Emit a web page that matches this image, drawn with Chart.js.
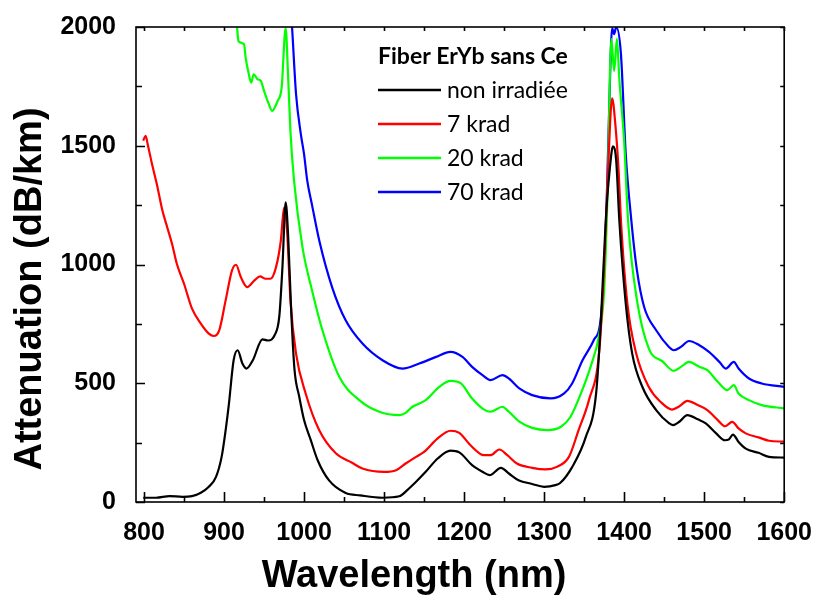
<!DOCTYPE html>
<html>
<head>
<meta charset="utf-8">
<script src="https://cdn.jsdelivr.net/npm/chart.js@4.4.1/dist/chart.umd.min.js"></script>
<style>
  html, body { margin: 0; padding: 0; background: #fff; }
  #chart { display: block; }
</style>
</head>
<body>
<canvas id="chart" width="820" height="605"></canvas>
<script>
// values (wavelength in nm, attenuation in dB/km)
const legendTitle = 'Fiber ErYb sans Ce';
const seriesLabels = ['non irradiée', '7 krad', '20 krad', '70 krad'];
const seriesColors = ['#000000', '#ff0000', '#00ff00', '#0000ff'];

const xMajorTicks = [800, 900, 1000, 1100, 1200, 1300, 1400, 1500, 1600];
const xMinorTicks = [850, 950, 1050, 1150, 1250, 1350, 1450, 1550];
const yMajorTicks = [0, 500, 1000, 1500, 2000];
const yMinorTicks = [250, 750, 1250, 1750];

const blackX = [799, 815, 832, 848, 860, 871, 881, 890, 897, 902, 906, 912, 917, 923, 928, 936, 948, 955, 963, 969, 973, 977, 980, 984, 988, 994, 1000, 1008, 1017, 1031, 1052, 1070, 1098, 1119, 1129, 1140, 1152, 1167, 1183, 1194, 1210, 1223, 1232, 1246, 1256, 1268, 1285, 1300, 1314, 1320, 1335, 1352, 1365, 1371, 1377, 1382, 1386, 1390, 1394, 1402, 1410, 1423, 1440, 1456, 1461, 1469, 1479, 1492, 1502, 1515, 1526, 1531, 1536, 1543, 1552, 1568, 1581, 1600];
const blackY = [18, 18, 25, 22, 25, 39, 64, 106, 190, 302, 410, 597, 639, 583, 562, 597, 685, 680, 701, 779, 989, 1262, 1129, 800, 560, 443, 345, 265, 176, 92, 38, 28, 18, 24, 50, 85, 127, 183, 216, 209, 155, 127, 113, 144, 120, 92, 76, 64, 71, 80, 147, 273, 458, 765, 1185, 1400, 1497, 1440, 1185, 836, 626, 483, 387, 332, 324, 338, 366, 348, 331, 289, 260, 264, 284, 253, 225, 207, 190, 187];

const redX = [799, 802, 805, 810, 816, 823, 829, 835, 841, 850, 860, 871, 881, 887, 894, 902, 910, 915, 921, 929, 938, 945, 952, 958, 965, 971, 975, 979, 983, 990, 1002, 1019, 1040, 1060, 1073, 1100, 1115, 1127, 1140, 1150, 1167, 1183, 1194, 1208, 1225, 1233, 1244, 1254, 1266, 1285, 1302, 1316, 1331, 1343, 1356, 1369, 1375, 1380, 1385, 1389, 1393, 1396, 1404, 1415, 1431, 1446, 1460, 1469, 1479, 1492, 1504, 1517, 1526, 1535, 1543, 1552, 1568, 1581, 1600];
const redY = [1521, 1542, 1500, 1423, 1339, 1227, 1157, 1087, 1003, 919, 814, 751, 709, 699, 723, 849, 975, 999, 947, 905, 933, 950, 940, 940, 989, 1101, 1240, 1129, 849, 625, 457, 302, 204, 165, 141, 127, 134, 162, 190, 211, 268, 300, 291, 239, 197, 197, 221, 197, 162, 144, 137, 148, 190, 302, 429, 639, 989, 1409, 1700, 1590, 1400, 1185, 836, 626, 483, 420, 389, 403, 426, 408, 387, 345, 319, 337, 310, 289, 272, 258, 254];

const greenX = [912, 916, 918, 925, 927, 931, 934, 937, 942, 946, 950, 956, 960, 967, 972, 977, 980, 983, 987.5, 998, 1010, 1023, 1044, 1069, 1094, 1119, 1127, 1135, 1152, 1169, 1183, 1196, 1210, 1225, 1233, 1248, 1256, 1269, 1285, 1304, 1321, 1333, 1346, 1358, 1369, 1375, 1379, 1384, 1387.5, 1391, 1394, 1400, 1405, 1416, 1431, 1448, 1462, 1471, 1481, 1494, 1504, 1517, 1529, 1537, 1543, 1556, 1572, 1600];
const greenY = [2100, 2010, 1941, 1927, 1871, 1801, 1766, 1801, 1780, 1773, 1731, 1675, 1647, 1689, 1745, 1995, 1800, 1560, 1353, 1073, 891, 723, 527, 429, 380, 366, 375, 400, 429, 485, 510, 499, 436, 389, 380, 401, 380, 338, 312, 303, 317, 359, 457, 569, 709, 891, 1269, 1950, 1815, 1950, 1780, 1520, 1180, 850, 645, 592, 552, 569, 590, 569, 555, 506, 471, 492, 457, 429, 408, 394];

const blueX = [983, 985, 990, 996, 1000, 1004, 1010, 1019, 1035, 1052, 1073, 1098, 1123, 1144, 1165, 1183, 1198, 1210, 1223, 1233, 1248, 1256, 1269, 1285, 1308, 1325, 1335, 1348, 1362, 1371, 1377, 1381, 1385, 1387.5, 1390, 1396, 1402, 1409, 1416, 1425, 1440, 1456, 1462, 1471, 1481, 1494, 1506, 1519, 1527, 1537, 1543, 1556, 1572, 1600];
const blueY = [2100, 2000, 1717, 1549, 1465, 1353, 1250, 1101, 905, 765, 667, 597, 562, 583, 611, 632, 611, 569, 534, 513, 534, 520, 478, 450, 436, 457, 499, 597, 681, 779, 1129, 1619, 1995, 1970, 2000, 1886, 1465, 1185, 975, 821, 723, 653, 639, 653, 678, 660, 632, 590, 562, 590, 562, 520, 499, 485];

const xTitle = 'Wavelength (nm)';
const yTitle = 'Attenuation (dB/km)';

const numFont = '"Liberation Sans", Arial, sans-serif';
const legendFont = 'Lato, "Open Sans", sans-serif';

function toPoints(xs, ys) {
    return xs.map((x, i) => ({ x: x, y: ys[i] }));
}

const seriesData = [
    toPoints(blackX, blackY),
    toPoints(redX, redY),
    toPoints(greenX, greenY),
    toPoints(blueX, blueY)
];

// frame with inward ticks on all four sides
const frameTicks = {
    id: 'frameTicks',
    afterDatasetsDraw(chart) {
        const { ctx, chartArea: a, scales: { x, y } } = chart;
        ctx.save();
        ctx.strokeStyle = '#000';
        ctx.lineWidth = 1.6;
        ctx.strokeRect(a.left, a.top, a.right - a.left, a.bottom - a.top);
        ctx.beginPath();
        const xt = (v, len) => {
            const px = Math.round(x.getPixelForValue(v)) + 0.5;
            ctx.moveTo(px, a.bottom); ctx.lineTo(px, a.bottom - len);
            ctx.moveTo(px, a.top); ctx.lineTo(px, a.top + 4);
        };
        const yt = (v, len) => {
            const py = Math.round(y.getPixelForValue(v)) + 0.5;
            ctx.moveTo(a.left, py); ctx.lineTo(a.left + len, py);
            ctx.moveTo(a.right, py); ctx.lineTo(a.right - 4, py);
        };
        xMajorTicks.forEach(v => xt(v, 10));
        xMinorTicks.forEach(v => xt(v, 5));
        yMajorTicks.forEach(v => yt(v, 9));
        yMinorTicks.forEach(v => yt(v, 6));
        ctx.stroke();
        ctx.restore();
    }
};

// axis titles placed like the original figure
const axisTitles = {
    id: 'axisTitles',
    afterDraw(chart) {
        const ctx = chart.ctx;
        ctx.save();
        ctx.fillStyle = '#000';
        ctx.font = 'bold 38px ' + numFont;
        ctx.textAlign = 'center';
        ctx.textBaseline = 'middle';
        ctx.fillText(xTitle, 414, 577);
        ctx.translate(31, 289);
        ctx.rotate(-Math.PI / 2);
        ctx.fillText(yTitle, 0, 0);
        ctx.restore();
    }
};

// legend drawn inside the plot area
const innerLegend = {
    id: 'innerLegend',
    afterDraw(chart) {
        const ctx = chart.ctx;
        ctx.save();
        ctx.fillStyle = '#000';
        ctx.textBaseline = 'middle';
        ctx.textAlign = 'left';
        ctx.font = 'bold 23px ' + legendFont;
        ctx.fillText(legendTitle, 378, 57);
        ctx.font = '23px ' + legendFont;
        chart.data.datasets.forEach((ds, i) => {
            const ly = 90 + i * 34;
            ctx.strokeStyle = ds.borderColor;
            ctx.lineWidth = 2.5;
            ctx.beginPath();
            ctx.moveTo(378, ly);
            ctx.lineTo(441, ly);
            ctx.stroke();
            ctx.fillText(ds.label, 447, ly + 1);
        });
        ctx.restore();
    }
};

const chart = new Chart(document.getElementById('chart').getContext('2d'), {
    type: 'line',
    data: {
        datasets: seriesData.map((pts, i) => ({
            label: seriesLabels[i],
            data: pts,
            borderColor: seriesColors[i],
            backgroundColor: seriesColors[i],
            borderWidth: 2.2,
            pointRadius: 0,
            fill: false,
            cubicInterpolationMode: 'monotone',
            clip: 0
        }))
    },
    options: {
        responsive: false,
        animation: false,
        layout: { padding: { left: 0, right: 34, top: 26, bottom: 0 } },
        plugins: {
            legend: { display: false },
            tooltip: { enabled: false }
        },
        scales: {
            x: {
                type: 'linear',
                min: 790,
                max: 1600,
                afterBuildTicks: s => { s.ticks = xMajorTicks.map(v => ({ value: v })); },
                afterFit: s => { s.height = 103; },
                grid: { display: false },
                border: { display: false },
                ticks: {
                    color: '#000',
                    padding: 8,
                    maxRotation: 0,
                    autoSkip: false,
                    callback: v => String(v),
                    font: { family: numFont, size: 25, weight: 'bold' }
                }
            },
            y: {
                min: 0,
                max: 2000,
                afterBuildTicks: s => { s.ticks = yMajorTicks.map(v => ({ value: v })); },
                afterFit: s => { s.width = 136; },
                grid: { display: false },
                border: { display: false },
                ticks: {
                    color: '#000',
                    padding: 12,
                    callback: v => String(v),
                    font: { family: numFont, size: 25, weight: 'bold' }
                }
            }
        }
    },
    plugins: [frameTicks, axisTitles, innerLegend]
});
</script>
</body>
</html>
